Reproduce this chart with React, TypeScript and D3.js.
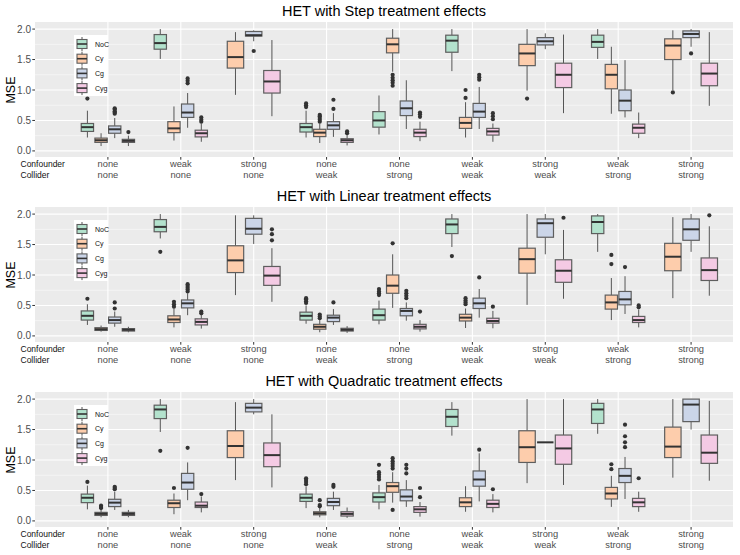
import React from "react";
import * as d3 from "d3";

// [lower whisker, q1, median, q3, upper whisker, outliers]; null = not drawn (all values above 2)
type Box = [number, number, number, number, number, number[]] | null;

const methods = ["NoC", "Cy", "Cg", "Cyg"];
const colors = ["#b3e2cd", "#fdcdac", "#cbd5e8", "#f4cae4"];
const confounder = ["none", "weak", "strong", "none", "none", "weak", "strong", "weak", "strong"];
const collider = ["none", "none", "none", "weak", "strong", "weak", "weak", "strong", "strong"];
const yTicks = [0, 0.5, 1, 1.5, 2];
const titles = [
  "HET with Step treatment effects",
  "HET with Linear treatment effects",
  "HET with Quadratic treatment effects",
];

const stepNoC: Box[] = [
  [0.22, 0.32, 0.39, 0.45, 0.66, [0.86]],
  [1.51, 1.67, 1.77, 1.91, 2.0, []],
  null,
  [0.22, 0.31, 0.39, 0.45, 0.66, [0.72, 0.75, 0.78]],
  [0.27, 0.39, 0.5, 0.645, 0.91, []],
  [1.31, 1.62, 1.81, 1.9, 2.0, []],
  null,
  [1.51, 1.7, 1.79, 1.9, 2.0, []],
  null,
];
const stepCy: Box[] = [
  [0.08, 0.14, 0.175, 0.21, 0.29, []],
  [0.17, 0.3, 0.37, 0.48, 0.73, []],
  [0.92, 1.36, 1.54, 1.8, 1.95, []],
  [0.13, 0.235, 0.3, 0.355, 0.45, [0.48, 0.51, 0.54, 0.57, 0.59]],
  [1.3, 1.61, 1.75, 1.85, 2.0, [1.07, 1.12, 1.16, 1.2, 1.25]],
  [0.22, 0.37, 0.46, 0.55, 0.8, [0.87, 1.0]],
  [0.99, 1.4, 1.6, 1.75, 2.0, [0.86]],
  [0.61, 1.02, 1.25, 1.42, 1.71, []],
  [1.0, 1.5, 1.73, 1.84, 1.98, [0.96]],
];
const stepCg: Box[] = [
  [0.21, 0.29, 0.355, 0.41, 0.54, [0.61, 0.63, 0.65, 0.68, 0.7]],
  [0.38, 0.55, 0.63, 0.77, 0.95, [1.11, 1.15, 1.19]],
  [1.8, 1.885, 1.9, 1.96, 1.98, [1.64]],
  [0.23, 0.355, 0.42, 0.48, 0.62, [0.69, 0.84]],
  [0.36, 0.58, 0.7, 0.82, 1.16, []],
  [0.36, 0.55, 0.645, 0.78, 1.05, [1.17, 1.21, 1.25]],
  [1.67, 1.74, 1.8, 1.86, 1.93, []],
  [0.55, 0.66, 0.825, 1.0, 1.49, []],
  [1.71, 1.86, 1.92, 1.97, 2.0, [1.6]],
];
const stepCyg: Box[] = [
  [0.08, 0.14, 0.165, 0.19, 0.25, [0.31]],
  [0.15, 0.23, 0.29, 0.34, 0.45, [0.48, 0.51, 0.55]],
  [0.57, 0.95, 1.14, 1.32, 1.82, []],
  [0.09, 0.14, 0.175, 0.2, 0.26, [0.29, 0.32]],
  [0.16, 0.235, 0.3, 0.355, 0.48, [0.56, 0.6, 0.63]],
  [0.15, 0.26, 0.32, 0.37, 0.45, [0.52, 0.57, 0.62]],
  [0.62, 1.04, 1.25, 1.44, 1.91, []],
  [0.21, 0.29, 0.38, 0.44, 0.63, []],
  [0.74, 1.07, 1.27, 1.44, 1.95, []],
];

const linNoC: Box[] = [
  [0.18, 0.26, 0.33, 0.41, 0.52, [0.61]],
  [1.6, 1.71, 1.79, 1.91, 2.0, [1.38]],
  null,
  [0.2, 0.26, 0.33, 0.39, 0.5, [0.54, 0.57, 0.6, 0.62]],
  [0.19, 0.26, 0.34, 0.44, 0.58, [0.67, 0.7, 0.73, 0.77]],
  [1.46, 1.68, 1.83, 1.92, 2.0, [1.31]],
  null,
  [1.38, 1.68, 1.87, 1.97, 2.0, []],
  null,
];
const linCy: Box[] = [
  [0.07, 0.09, 0.11, 0.135, 0.17, []],
  [0.14, 0.22, 0.27, 0.33, 0.45, [0.48, 0.52, 0.56]],
  [0.67, 1.04, 1.24, 1.48, 1.98, []],
  [0.06, 0.11, 0.15, 0.19, 0.26, [0.29, 0.32, 0.35]],
  [0.46, 0.7, 0.825, 1.0, 1.34, [1.52]],
  [0.13, 0.245, 0.3, 0.355, 0.45, [0.52, 0.55, 0.58, 0.62]],
  [0.51, 1.03, 1.26, 1.44, 2.0, []],
  [0.26, 0.44, 0.55, 0.67, 0.95, [1.18, 1.33]],
  [0.62, 1.07, 1.3, 1.52, 1.95, []],
];
const linCg: Box[] = [
  [0.15, 0.21, 0.26, 0.31, 0.4, [0.45, 0.55]],
  [0.34, 0.46, 0.535, 0.59, 0.7, [0.73, 0.76, 0.79, 0.82, 0.85]],
  [1.51, 1.67, 1.76, 1.93, 1.98, []],
  [0.18, 0.235, 0.3, 0.34, 0.44, [0.55]],
  [0.25, 0.33, 0.41, 0.45, 0.55, [0.62, 0.66, 0.7, 0.74]],
  [0.3, 0.45, 0.535, 0.62, 0.77, [0.96]],
  [1.34, 1.62, 1.85, 1.92, 2.0, []],
  [0.36, 0.51, 0.6, 0.73, 0.98, [1.13]],
  [1.38, 1.57, 1.75, 1.92, 2.0, []],
];
const linCyg: Box[] = [
  [0.06, 0.08, 0.1, 0.12, 0.15, []],
  [0.12, 0.18, 0.23, 0.28, 0.34, [0.37, 0.4]],
  [0.56, 0.83, 0.99, 1.14, 1.44, [1.57, 1.67, 1.75]],
  [0.05, 0.08, 0.1, 0.125, 0.16, []],
  [0.07, 0.115, 0.15, 0.19, 0.26, [0.4]],
  [0.125, 0.21, 0.245, 0.29, 0.41, [0.48]],
  [0.61, 0.88, 1.07, 1.25, 1.74, [1.94]],
  [0.14, 0.22, 0.26, 0.32, 0.43, [0.47, 0.5]],
  [0.66, 0.91, 1.08, 1.28, 1.8, [1.98]],
];

const quadNoC: Box[] = [
  [0.19, 0.3, 0.38, 0.44, 0.58, [0.64]],
  [1.46, 1.68, 1.83, 1.9, 2.0, [1.15]],
  null,
  [0.21, 0.32, 0.38, 0.44, 0.56, [0.6, 0.64, 0.67, 0.7]],
  [0.19, 0.31, 0.39, 0.46, 0.59, [0.68, 0.72, 0.76, 0.8, 0.92]],
  [1.4, 1.55, 1.71, 1.83, 1.95, []],
  null,
  [1.43, 1.6, 1.83, 1.93, 2.0, []],
  null,
];
const quadCy: Box[] = [
  [0.06, 0.09, 0.115, 0.14, 0.18, [0.21, 0.23, 0.25]],
  [0.11, 0.22, 0.29, 0.34, 0.45, [0.54]],
  [0.67, 1.04, 1.23, 1.48, 1.95, []],
  [0.06, 0.1, 0.125, 0.15, 0.22, [0.24, 0.26, 0.34]],
  [0.3, 0.47, 0.57, 0.63, 0.8, [0.18, 0.86, 0.9, 0.94, 0.98, 1.03]],
  [0.15, 0.235, 0.305, 0.38, 0.57, []],
  [0.62, 0.96, 1.21, 1.48, 2.0, []],
  [0.23, 0.36, 0.45, 0.55, 0.74, [0.85, 0.93]],
  [0.71, 1.04, 1.22, 1.54, 2.0, []],
];
const quadCg: Box[] = [
  [0.18, 0.235, 0.3, 0.355, 0.48, [0.52, 0.54, 0.56]],
  [0.34, 0.52, 0.63, 0.78, 0.96, [1.2]],
  [1.75, 1.79, 1.86, 1.93, 2.0, []],
  [0.18, 0.25, 0.31, 0.37, 0.48, [0.56, 0.59]],
  [0.23, 0.33, 0.4, 0.51, 0.67, [0.78, 0.86, 0.92]],
  [0.32, 0.57, 0.68, 0.82, 1.11, [1.17]],
  [1.29, 1.29, 1.29, 1.29, 1.29, []],
  [0.36, 0.63, 0.74, 0.86, 1.05, [1.21, 1.29, 1.39, 1.58]],
  [1.5, 1.63, 1.91, 2.0, 2.0, []],
];
const quadCyg: Box[] = [
  [0.06, 0.09, 0.115, 0.14, 0.18, []],
  [0.14, 0.22, 0.25, 0.31, 0.4, [0.44]],
  [0.55, 0.89, 1.08, 1.28, 1.75, []],
  [0.05, 0.08, 0.115, 0.15, 0.22, []],
  [0.07, 0.14, 0.19, 0.235, 0.31, [0.39, 0.54]],
  [0.14, 0.22, 0.28, 0.34, 0.44, [0.52]],
  [0.59, 0.93, 1.19, 1.41, 2.0, []],
  [0.15, 0.235, 0.305, 0.37, 0.48, [0.7]],
  [0.66, 0.945, 1.12, 1.41, 1.97, []],
];

const panels = [
  [stepNoC, stepCy, stepCg, stepCyg],
  [linNoC, linCy, linCg, linCyg],
  [quadNoC, quadCy, quadCg, quadCyg],
];

const W = 740;
const H = 555;
const PANEL_H = 185;
const left = 35;
const right = 733;
const font = "'Liberation Sans', Arial, Helvetica, sans-serif";

const x = d3.scaleLinear().domain([-1, 8.575]).range([left, right]);
const step = x(1) - x(0);

function Panel({ title, series, top }: { title: string; series: Box[][]; top: number }) {
  const y = d3.scaleLinear().domain([-0.1, 2.1]).range([top + 157, top + 23]);
  const minor = [0.25, 0.75, 1.25, 1.75];

  const marks: React.ReactNode[] = [];
  confounder.forEach((_, g) => {
    const present = methods.map((_, m) => m).filter((m) => series[m][g] !== null);
    const n = present.length;
    const slot = (0.75 * step) / n;
    const bw = slot * 0.9;
    present.forEach((m, k) => {
      const b = series[m][g] as NonNullable<Box>;
      const cx = x(g) + (k - (n - 1) / 2) * slot;
      const [lo, q1, med, q3, hi, out] = b;
      marks.push(
        <g key={`${g}-${m}`}>
          <line x1={cx} x2={cx} y1={y(q3)} y2={y(hi)} stroke="#555" strokeWidth={1} />
          <line x1={cx} x2={cx} y1={y(q1)} y2={y(lo)} stroke="#555" strokeWidth={1} />
          <rect
            x={cx - bw / 2}
            y={y(q3)}
            width={bw}
            height={Math.max(0, y(q1) - y(q3))}
            fill={colors[m]}
            stroke="#5e5e5e"
            strokeWidth={1.2}
          />
          <line x1={cx - bw / 2} x2={cx + bw / 2} y1={y(med)} y2={y(med)} stroke="#333" strokeWidth={2} />
          {out.map((o, i) => (
            <circle key={i} cx={cx} cy={y(o)} r={2.1} fill="#333" />
          ))}
        </g>
      );
    });
  });

  return (
    <g>
      <text x={(left + right) / 2} y={top + 15.5} textAnchor="middle" fontSize={14.5} fontFamily={font} fill="#000">
        {title}
      </text>
      <rect x={left} y={top + 22} width={right - left} height={135} fill="#ebebeb" />
      {minor.map((v) => (
        <line key={v} x1={left} x2={right} y1={y(v)} y2={y(v)} stroke="#fff" strokeWidth={0.5} />
      ))}
      {yTicks.map((v) => (
        <line key={v} x1={left} x2={right} y1={y(v)} y2={y(v)} stroke="#fff" strokeWidth={1.1} />
      ))}
      {confounder.map((_, g) => (
        <line key={g} x1={x(g)} x2={x(g)} y1={top + 22} y2={top + 157} stroke="#fff" strokeWidth={1.1} />
      ))}
      {marks}
      {/* legend inside the panel */}
      <rect x={74} y={top + 35} width={34} height={61} fill="#fff" />
      {methods.map((m, i) => {
        const cy = top + 44 + i * 14.7;
        return (
          <g key={m}>
            <line x1={82} x2={82} y1={cy - 7} y2={cy + 7} stroke="#555" strokeWidth={1} />
            <rect x={77} y={cy - 4.5} width={10} height={9} fill={colors[i]} stroke="#5e5e5e" strokeWidth={1.1} />
            <line x1={77} x2={87} y1={cy} y2={cy} stroke="#333" strokeWidth={1.6} />
            <text x={95} y={cy} dominantBaseline="central" fontSize={7} fontFamily={font} fill="#111">
              {m}
            </text>
          </g>
        );
      })}
      {/* y axis */}
      {yTicks.map((v) => (
        <g key={v}>
          <line x1={32.3} x2={left} y1={y(v)} y2={y(v)} stroke="#333" strokeWidth={1} />
          <text x={31} y={y(v)} textAnchor="end" dominantBaseline="central" fontSize={10} fontFamily={font} fill="#4d4d4d">
            {d3.format(".1f")(v)}
          </text>
        </g>
      ))}
      <text
        transform={`translate(11,${top + 90}) rotate(-90)`}
        textAnchor="middle"
        dominantBaseline="central"
        fontSize={12.5}
        fontFamily={font}
        fill="#000"
      >
        MSE
      </text>
      {/* x axis */}
      {confounder.map((c, g) => (
        <g key={g}>
          <line x1={x(g)} x2={x(g)} y1={top + 157} y2={top + 159.7} stroke="#333" strokeWidth={1} />
          <text x={x(g)} y={top + 167.3} textAnchor="middle" fontSize={9.3} fontFamily={font} fill="#4d4d4d">
            {c}
          </text>
          <text x={x(g)} y={top + 178} textAnchor="middle" fontSize={9.3} fontFamily={font} fill="#4d4d4d">
            {collider[g]}
          </text>
        </g>
      ))}
      <text x={20.5} y={top + 166.8} fontSize={8.5} fontFamily={font} fill="#111">
        Confounder
      </text>
      <text x={20.5} y={top + 178} fontSize={8.5} fontFamily={font} fill="#111">
        Collider
      </text>
    </g>
  );
}

export default function App() {
  return (
    <svg width={W} height={H} style={{ position: "absolute", left: 0, top: 0, background: "#fff" }}>
      <rect width={W} height={H} fill="#fff" />
      {panels.map((s, i) => (
        <Panel key={i} title={titles[i]} series={s} top={i * PANEL_H} />
      ))}
    </svg>
  );
}
